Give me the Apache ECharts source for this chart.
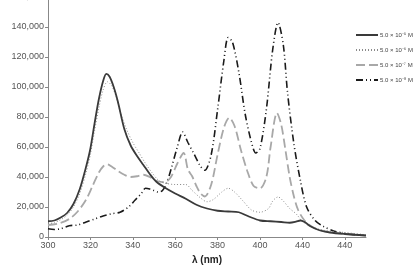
<!DOCTYPE html>
<html>
<head>
<meta charset="utf-8">
<script src="https://cdn.jsdelivr.net/npm/echarts@6/dist/echarts.min.js"></script>
<style>html,body{margin:0;padding:0;background:#fff}#c{width:417px;height:265px}</style>
</head>
<body>
<div id="c"></div>
<script>
const seriesNames = ['5.0 × 10⁻⁵ M','5.0 × 10⁻⁶ M','5.0 × 10⁻⁷ M','5.0 × 10⁻⁸ M'];
const xTickLabels = ['300','320','340','360','380','400','440','440'];
const yTicks = [0,20000,40000,60000,80000,100000,120000,140000,160000];

const conc5 = [[300,10500],[303,11000],[306,13000],[309,16000],[312,22000],[315,32000],[318,47000],[320,59000],[322,76000],[324,92000],[326,104000],[327.5,108800],[329,107000],[331,100000],[333,90000],[336,72000],[339,61000],[342,54000],[345,48000],[348,42000],[351,37000],[355,33000],[360,29000],[365,25500],[370,21500],[375,19000],[380,17500],[385,17000],[390,16500],[395,13500],[400,11000],[405,10500],[410,10000],[414,9500],[417,10200],[419,11000],[421,10000],[424,7000],[428,4500],[433,3000],[440,2000],[450,1000]];
const conc6 = [[300,9000],[303,9500],[306,11500],[309,14500],[312,20000],[315,29000],[318,43000],[320,55000],[322,71000],[324,86000],[326,98000],[328,103500],[330,101000],[332,94000],[334,84000],[337,72000],[340,63000],[343,56000],[346,49000],[349,43000],[352,38000],[355,36000],[360,35000],[365,35000],[368,31000],[372,26000],[375,23500],[378,25000],[382,30000],[385,32500],[388,30000],[392,24000],[396,18000],[400,16500],[404,19000],[406,24000],[408.5,26700],[411,24000],[414,19000],[417,15500],[420,10500],[424,7000],[430,4500],[440,3000],[450,1500]];
const conc7 = [[300,8000],[305,9000],[310,12000],[314,17000],[318,25000],[321,34000],[324,43000],[326,47000],[328,48500],[330,47000],[333,44000],[336,41500],[339,40000],[342,40500],[345,41500],[348,40000],[351,37500],[355,36500],[358,40000],[361,49000],[364,56000],[366,45000],[368,40500],[370,34000],[372,29000],[374,27000],[377,35000],[380,55000],[383,73000],[385.5,79500],[388,74000],[391,58000],[394,44000],[397,34000],[400,32500],[403,40000],[405,60000],[408,82700],[410,75000],[412,58000],[414,40000],[416,27000],[418,18000],[421,11000],[425,6500],[430,4000],[440,2000],[450,1000]];
const conc8 = [[300,5500],[303,5000],[306,5500],[310,7500],[314,8000],[318,10000],[322,12000],[326,14000],[330,15500],[334,16500],[338,20000],[341,24500],[344,29000],[346,32500],[348,32000],[350,31000],[352,30000],[354,31000],[356,36000],[358,45000],[361,60000],[363.5,70000],[366,63000],[369,55000],[372,47000],[374,44500],[377,55000],[380,85000],[383,118000],[385,133000],[387,130000],[390,110000],[393,82000],[396,63000],[398,56000],[400,59000],[403,85000],[406,125000],[408.5,143000],[411,128000],[413,96000],[416,62000],[419,38000],[422,20000],[426,11000],[430,7000],[436,3500],[442,2000],[450,1000]];

const dataSets = [conc5, conc6, conc7, conc8];
const styles = [
  {color:'#3a3a3a', width:1.8, type:'solid'},
  {color:'#8a8a8a', width:1, type:[1,2]},
  {color:'#a8a8a8', width:1.8, type:[9,4]},
  {color:'#1a1a1a', width:1.6, type:[7,3,1,3,1,3]}
];

const chart = echarts.init(document.getElementById('c'), null, {renderer:'canvas'});
const font = 'Liberation Sans, Arial, sans-serif';
chart.setOption({
  animation:false,
  grid:{left:48, right:51, top:-3, bottom:28, containLabel:false, outerBoundsMode:'none'},
  legend:{
    orient:'vertical', left:355, top:32, padding:0, itemWidth:22, itemHeight:7, itemGap:9,
    itemStyle:{opacity:0},
    textStyle:{fontSize:6, color:'#444', fontFamily:font, padding:[0,0,0,-3]},
    data:seriesNames
  },
  xAxis:{
    type:'value', min:300, max:450, interval:20,
    name:'λ (nm)', nameLocation:'middle', nameGap:15,
    nameTextStyle:{fontSize:10, fontWeight:'bold', color:'#222', fontFamily:font},
    axisLine:{lineStyle:{color:'#888', width:1}},
    axisTick:{show:true, length:3, lineStyle:{color:'#888'}},
    splitLine:{show:false},
    axisLabel:{fontSize:9, color:'#555', fontFamily:font, margin:4, showMaxLabel:false,
      formatter:function(v){const i=Math.round((v-300)/20); return (Math.abs((v-300)/20-i)<1e-6 && i<xTickLabels.length)?xTickLabels[i]:'';}}
  },
  yAxis:{
    type:'value', min:yTicks[0], max:yTicks[yTicks.length-1], interval:20000,
    name:'ε (M⁻¹·cm⁻¹)', nameLocation:'middle', nameGap:36, nameRotate:90,
    nameTextStyle:{fontSize:10, fontWeight:'bold', color:'#222', fontFamily:font},
    axisLine:{show:true, lineStyle:{color:'#888', width:1}},
    axisTick:{show:true, length:3, lineStyle:{color:'#888'}},
    splitLine:{show:false},
    axisLabel:{fontSize:9, color:'#555', fontFamily:font, margin:4,
      formatter:function(v){return v.toLocaleString('en-US');}}
  },
  series:dataSets.map(function(d,i){
    return {
      name:seriesNames[i], type:'line', data:d, symbol:'none', smooth:0.3,
      lineStyle:{color:styles[i].color, width:styles[i].width, type:styles[i].type},
      itemStyle:{color:styles[i].color},
      z: 10-i
    };
  })
});
</script>
</body>
</html>
